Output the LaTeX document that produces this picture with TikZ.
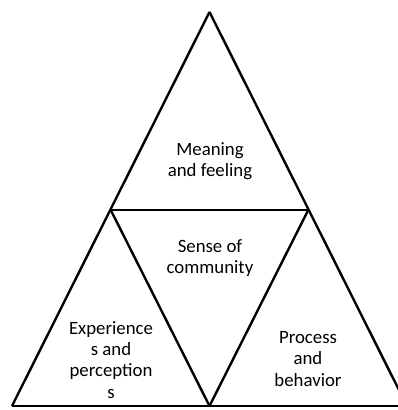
\documentclass[tikz,border=0pt]{standalone}
\usepackage{fontspec}
\setmainfont{Carlito}
\usepackage{tikz}

\begin{document}
\begin{tikzpicture}[x=1pt,y=1pt,line width=2.4pt,
	label text/.style={align=center,font=\fontsize{18.8}{21.2}\selectfont}]
	\useasboundingbox (0,0) rectangle (398,410);
	\coordinate (T) at (209.5, 398);
	\coordinate (L) at (12, 4);
	\coordinate (R) at (407, 4);
	\coordinate (ML) at (110.75, 200);
	\coordinate (MR) at (308.25, 200);
	\coordinate (MB) at (209.5, 4);
	\draw (T) -- (L);
	\draw (T) -- (R);
	\draw (L) -- (R);
	\draw (ML) -- (MR);
	\draw (ML) -- (MB);
	\draw (MR) -- (MB);
	\node [label text] (meaning) at (210, 249) {Meaning\\and feeling};
	\node [label text] (sense) at (210, 152) {Sense of\\community};
	\node [label text] (experience) at (111, 50) {Experience\\s and\\perception\\s};
	\node [label text] (process) at (308, 51) {Process\\and\\behavior};
\end{tikzpicture}
\end{document}
